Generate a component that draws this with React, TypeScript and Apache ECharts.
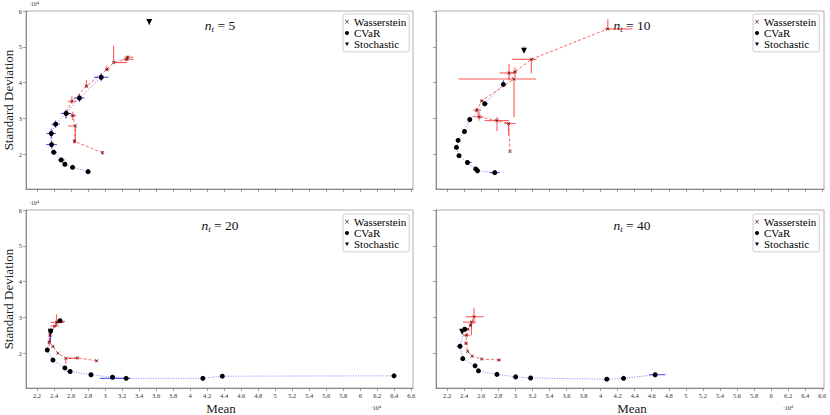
import React, { useEffect, useRef } from "react";
import * as echarts from "echarts";

const FONT = "'Liberation Serif', 'Times New Roman', serif";

const xTicks = [2.2, 2.4, 2.6, 2.8, 3, 3.2, 3.4, 3.6, 3.8, 4, 4.2, 4.4, 4.6, 4.8, 5, 5.2, 5.4, 5.6, 5.8, 6, 6.2, 6.4, 6.6];
const yTicks = [2, 3, 4, 5, 6];
const panelLabels = ["5", "10", "20", "40"];
const legendNames = ["Wasserstein", "CVaR", "Stochastic"];

// values in units of 10^4 ; errors: [xLow, xHigh, yLow, yHigh]
// n_t = 5
const wass5 = [[2.97, 2.04], [2.64, 2.36], [2.65, 2.79], [2.62, 3.08], [2.54, 3.14], [2.61, 3.48], [2.78, 3.9], [3.02, 4.37], [3.1, 4.56], [3.254, 4.65], [3.265, 4.71]];
const wass5Err = [[0, 0, 0.04, 0.06], [0.02, 0.02, 0.06, 0.07], [0.086, 0, 0.44, 0], [0.03, 0.04, 0.12, 0.11], [0.04, 0.06, 0.12, 0.1], [0.05, 0.05, 0.06, 0.14], [0.02, 0.02, 0.03, 0.17], [0.02, 0.03, 0.05, 0.1], [0, 0.16, 0, 0.47], [0.05, 0.08, 0.05, 0.05], [0.04, 0.07, 0.04, 0.04]];
const cvar5 = [[2.8, 1.515], [2.617, 1.636], [2.527, 1.72], [2.484, 1.84], [2.395, 2.056], [2.371, 2.27], [2.367, 2.58], [2.418, 2.84], [2.542, 3.14], [2.698, 3.57], [2.955, 4.15]];
const cvar5Err = [[0.02, 0.02, 0.02, 0.02], [0.02, 0.02, 0.05, 0.05], [0.02, 0.02, 0.05, 0.05], [0.04, 0.04, 0.06, 0.06], [0.02, 0.04, 0.03, 0.03], [0.062, 0.062, 0.11, 0.11], [0.055, 0.055, 0.14, 0.14], [0.05, 0.05, 0.1, 0.1], [0.06, 0.06, 0.14, 0.1], [0.06, 0.06, 0.11, 0.11], [0.085, 0.085, 0.11, 0.11]];
const stoch5 = [[3.519, 5.69]];
const stoch5Err = [[0, 0, 0.08, 0.08]];

// n_t = 10
const wass10 = [[2.938, 2.075], [2.922, 2.86], [2.785, 2.94], [2.575, 3.045], [2.548, 3.23], [2.606, 3.49], [2.985, 4.1], [2.926, 4.27], [2.996, 4.3], [3.188, 4.65], [4.085, 5.5]];
const wass10Err = [[0, 0, 0, 0], [0.047, 0.082, 0.33, 0], [0.145, 0.14, 0.29, 0.1], [0.07, 0.05, 0.1, 0.15], [0.04, 0.05, 0.05, 0.06], [0.02, 0.02, 0.03, 0.03], [0.65, 0.26, 1.07, 0], [0.11, 0.066, 0.21, 0.25], [0.02, 0.02, 0.15, 0.12], [0.23, 0.06, 0.39, 0], [0.04, 0.29, 0, 0.27]];
const cvar10 = [[2.759, 1.487], [2.556, 1.54], [2.536, 1.59], [2.439, 1.77], [2.34, 1.96], [2.31, 2.19], [2.329, 2.39], [2.404, 2.636], [2.466, 2.97], [2.641, 3.41], [2.86, 3.95]];
const cvar10Err = [[0.06, 0.06, 0.01, 0.01], [0.02, 0.02, 0.02, 0.02], [0.01, 0.01, 0.01, 0.01], [0.02, 0.05, 0.02, 0.02], [0, 0, 0, 0], [0.01, 0.01, 0.01, 0.01], [0, 0, 0, 0], [0.01, 0.01, 0.02, 0.02], [0.01, 0.01, 0.02, 0.02], [0.02, 0.04, 0.03, 0.03], [0.02, 0.02, 0.05, 0.12]];
const stoch10 = [[3.102, 4.89]];
const stoch10Err = [[0, 0, 0.05, 0.13]];

// n_t = 20
const wass20 = [[2.9, 1.79], [2.675, 1.87], [2.538, 1.86], [2.445, 2.0], [2.387, 2.19], [2.344, 2.31], [2.352, 2.51], [2.406, 2.76], [2.43, 2.86], [2.468, 2.89]];
const wass20Err = [[0.01, 0.01, 0.01, 0.01], [0.01, 0.01, 0.01, 0.01], [0, 0.136, 0.15, 0], [0.01, 0.01, 0.01, 0.01], [0.01, 0.01, 0.02, 0.02], [0.02, 0.02, 0.1, 0.1], [0.02, 0.02, 0.1, 0.1], [0.05, 0.05, 0.03, 0.03], [0.07, 0.09, 0.1, 0.23], [0.05, 0.06, 0.03, 0.03]];
const cvar20 = [[6.397, 1.37], [4.378, 1.36], [4.149, 1.3], [3.247, 1.3], [3.087, 1.33], [2.834, 1.4], [2.589, 1.49], [2.527, 1.59], [2.387, 1.81], [2.32, 2.09], [2.36, 2.62], [2.47, 2.91]];
const cvar20Err = [[0.02, 0.02, 0, 0], [0.01, 0.01, 0, 0], [0.01, 0.01, 0, 0], [0.31, 0.05, 0, 0], [0.01, 0.01, 0, 0], [0.01, 0.01, 0, 0], [0.04, 0, 0, 0], [0.01, 0.01, 0.01, 0.01], [0.01, 0.01, 0.02, 0.02], [0.01, 0.01, 0.02, 0.02], [0.02, 0.02, 0.3, 0.05], [0.01, 0.01, 0.02, 0.02]];
const stoch20 = [[2.36, 2.6]];
const stoch20Err = [[0, 0, 0.03, 0.03]];

// n_t = 40
const wass40 = [[2.809, 1.81], [2.603, 1.84], [2.493, 1.92], [2.442, 2.05], [2.422, 2.28], [2.427, 2.5], [2.446, 2.67], [2.474, 2.78], [2.486, 2.87], [2.516, 3.02]];
const wass40Err = [[0.02, 0.02, 0.02, 0.02], [0.01, 0.01, 0.01, 0.01], [0.01, 0.01, 0.01, 0.01], [0.01, 0.01, 0.02, 0.02], [0.02, 0.02, 0.05, 0.05], [0.04, 0.04, 0.03, 0.03], [0.01, 0.01, 0.02, 0.02], [0.02, 0.02, 0.03, 0.03], [0.1, 0.05, 0.37, 0], [0.098, 0.113, 0.19, 0.25]];
const cvar40 = [[4.64, 1.4], [4.269, 1.3], [4.073, 1.276], [3.18, 1.31], [3.004, 1.34], [2.785, 1.41], [2.568, 1.51], [2.528, 1.65], [2.384, 1.85], [2.352, 2.195], [2.407, 2.67]];
const cvar40Err = [[0.07, 0.12, 0, 0], [0.01, 0.01, 0, 0], [0.01, 0.01, 0, 0], [0.01, 0.01, 0, 0], [0.01, 0.01, 0, 0], [0.01, 0.01, 0, 0], [0.01, 0.01, 0, 0], [0.01, 0.01, 0.01, 0.01], [0.01, 0.01, 0.04, 0.04], [0.04, 0, 0, 0], [0.02, 0.02, 0.05, 0.05]];
const stoch40 = [[2.376, 2.6]];
const stoch40Err = [[0, 0, 0.03, 0.03]];

const panels = [
  { w: wass5, we: wass5Err, c: cvar5, ce: cvar5Err, s: stoch5, se: stoch5Err },
  { w: wass10, we: wass10Err, c: cvar10, ce: cvar10Err, s: stoch10, se: stoch10Err },
  { w: wass20, we: wass20Err, c: cvar20, ce: cvar20Err, s: stoch20, se: stoch20Err },
  { w: wass40, we: wass40Err, c: cvar40, ce: cvar40Err, s: stoch40, se: stoch40Err },
];

const gridPos = [
  { left: 26, top: 11, width: 387, height: 178 },
  { left: 436, top: 11, width: 388, height: 178 },
  { left: 26, top: 210, width: 387, height: 178 },
  { left: 436, top: 210, width: 388, height: 178 },
];

const X_SYM = "path://M0,1L1,0L5,4L9,0L10,1L6,5L10,9L9,10L5,6L1,10L0,9L4,5Z";
const TRI_SYM = "path://M0,0L10,0L5,9Z";

function withErr(pts: number[][], errs: number[][]) {
  return pts.map((p, i) => [p[0], p[1], ...(errs[i] || [0, 0, 0, 0])]);
}

function errRender(color: string, width: number) {
  return (params: any, api: any) => {
    const x = api.value(0);
    const y = api.value(1);
    const xlo = api.value(2);
    const xhi = api.value(3);
    const ylo = api.value(4);
    const yhi = api.value(5);
    const children: any[] = [];
    if (xlo + xhi > 0) {
      const a = api.coord([x - xlo, y]);
      const b = api.coord([x + xhi, y]);
      children.push({ type: "line", shape: { x1: a[0], y1: a[1], x2: b[0], y2: b[1] }, style: { stroke: color, lineWidth: width } });
    }
    if (ylo + yhi > 0) {
      const c = api.coord([x, y - ylo]);
      const d = api.coord([x, y + yhi]);
      children.push({ type: "line", shape: { x1: c[0], y1: c[1], x2: d[0], y2: d[1] }, style: { stroke: color, lineWidth: width } });
    }
    return { type: "group", children };
  };
}

export default function App() {
  const ref = useRef<HTMLDivElement>(null);
  useEffect(() => {
    if (!ref.current) return;
    const chart = echarts.init(ref.current, null, { renderer: "svg" });
    const fmt = (v: number) => String(Number(Number(v).toFixed(1)));
    const series: any[] = [];
    panels.forEach((p, i) => {
      const ax = { xAxisIndex: i, yAxisIndex: i };
      series.push({ ...ax, type: "line", name: "wline", data: p.w, symbol: "none", silent: true, z: 2, lineStyle: { color: "rgba(255,0,0,0.6)", width: 1, type: [3, 2] } });
      series.push({ ...ax, type: "line", name: "cline", data: p.c, symbol: "none", silent: true, z: 2, lineStyle: { color: "rgba(30,30,255,0.55)", width: 1, type: [1, 1.5] } });
      series.push({ ...ax, type: "custom", name: "werr", data: withErr(p.w, p.we), encode: { x: 0, y: 1 }, renderItem: errRender("rgba(255,0,0,0.65)", 1.1), z: 3, silent: true });
      series.push({ ...ax, type: "custom", name: "cerr", data: withErr(p.c, p.ce), encode: { x: 0, y: 1 }, renderItem: errRender("rgba(0,0,255,0.75)", 1), z: 3, silent: true });
      series.push({ ...ax, type: "custom", name: "serr", data: withErr(p.s, p.se), encode: { x: 0, y: 1 }, renderItem: errRender("rgba(40,150,220,0.9)", 1), z: 3, silent: true });
      series.push({ ...ax, type: "scatter", name: "Wasserstein", data: p.w, symbol: X_SYM, symbolSize: 3.5, itemStyle: { color: "#3a0a0a", opacity: 1 }, z: 5 });
      series.push({ ...ax, type: "scatter", name: "CVaR", data: p.c, symbol: "circle", symbolSize: 5, itemStyle: { color: "#000", opacity: 1 }, z: 5 });
      series.push({ ...ax, type: "scatter", name: "Stochastic", data: p.s, symbol: TRI_SYM, symbolSize: [6, 6], itemStyle: { color: "#000", opacity: 1 }, z: 6 });
    });

    const graphic: any[] = [];
    const titlePos = [[220, 25], [632, 25], [220, 225], [632, 225]];
    titlePos.forEach((tp, i) => {
      graphic.push({
        type: "text", x: tp[0], y: tp[1],
        style: {
          text: `{n|n}{t|t}{e| = ${panelLabels[i]}}`,
          align: "center", verticalAlign: "middle",
          rich: {
            n: { fontFamily: FONT, fontStyle: "italic", fontSize: 13.5, lineHeight: 16, fill: "#111" },
            t: { fontFamily: FONT, fontStyle: "italic", fontSize: 9, lineHeight: 9, verticalAlign: "bottom", fill: "#111" },
            e: { fontFamily: FONT, fontSize: 13.5, lineHeight: 16, fill: "#111" },
          },
        },
      });
    });
    [[8, 100], [8, 299]].forEach((p) => {
      graphic.push({ type: "text", x: p[0], y: p[1], rotation: Math.PI / 2, style: { text: "Standard Deviation", fontFamily: FONT, fontSize: 13, fill: "#222", align: "center", verticalAlign: "middle" } });
    });
    [[221, 408], [632, 408]].forEach((p) => {
      graphic.push({ type: "text", x: p[0], y: p[1], style: { text: "Mean", fontFamily: FONT, fontSize: 13, fill: "#222", align: "center", verticalAlign: "middle" } });
    });
    [[34, 4], [34, 203], [376, 408], [788, 408]].forEach((p) => {
      graphic.push({
        type: "text", x: p[0], y: p[1],
        style: {
          text: "{b|·10}{s|4}", align: "center", verticalAlign: "middle",
          rich: { b: { fontFamily: FONT, fontSize: 6, lineHeight: 8, fill: "#333" }, s: { fontFamily: FONT, fontSize: 4.5, lineHeight: 5, verticalAlign: "top", fill: "#333" } },
        },
      });
    });

    const legendPos = [[343, 14], [753, 14], [343, 214], [753, 214]];

    chart.setOption({
      animation: false,
      textStyle: { fontFamily: FONT },
      grid: gridPos.map((g) => ({ ...g, show: true, borderColor: "#999", borderWidth: 0.8, backgroundColor: "transparent", containLabel: false })),
      xAxis: gridPos.map((g, i) => ({
        gridIndex: i, type: "value", min: 2.07, max: 6.62,
        axisLine: { show: true, onZero: false, lineStyle: { color: "#777", width: 0.8 } },
        axisTick: { show: true, customValues: xTicks, length: 3, lineStyle: { color: "#777", width: 0.7 } },
        axisLabel: { show: i >= 2, customValues: xTicks, fontSize: 6.5, fontFamily: FONT, color: "#333", margin: 4, formatter: fmt },
        splitLine: { show: false },
      })),
      yAxis: gridPos.map((g, i) => ({
        gridIndex: i, type: "value", min: 1.03, max: 6.0,
        axisLine: { show: true, onZero: false, lineStyle: { color: "#777", width: 0.8 } },
        axisTick: { show: true, customValues: yTicks, length: 3, lineStyle: { color: "#777", width: 0.7 } },
        axisLabel: { show: i % 2 === 0, customValues: yTicks, fontSize: 6.5, fontFamily: FONT, color: "#333", margin: 4, formatter: fmt },
        splitLine: { show: false },
      })),
      legend: legendPos.map((lp) => ({
        left: lp[0], top: lp[1], orient: "vertical", itemGap: 0, itemWidth: 4, itemHeight: 5,
        padding: [2, 3, 2, 2], borderColor: "#ccc", borderWidth: 1, borderRadius: 2, backgroundColor: "#fff",
        selectedMode: false,
        textStyle: { fontFamily: FONT, fontSize: 11, lineHeight: 11.3, color: "#000" },
        data: legendNames.map((n) => ({ name: n, textStyle: { fontFamily: FONT, fontSize: 11, color: "#000" } })),
      })),
      series,
      graphic,
    });
    return () => chart.dispose();
  }, []);
  return <div ref={ref} style={{ position: "fixed", left: 0, top: 0, width: 830, height: 415, background: "#fff" }} />;
}
